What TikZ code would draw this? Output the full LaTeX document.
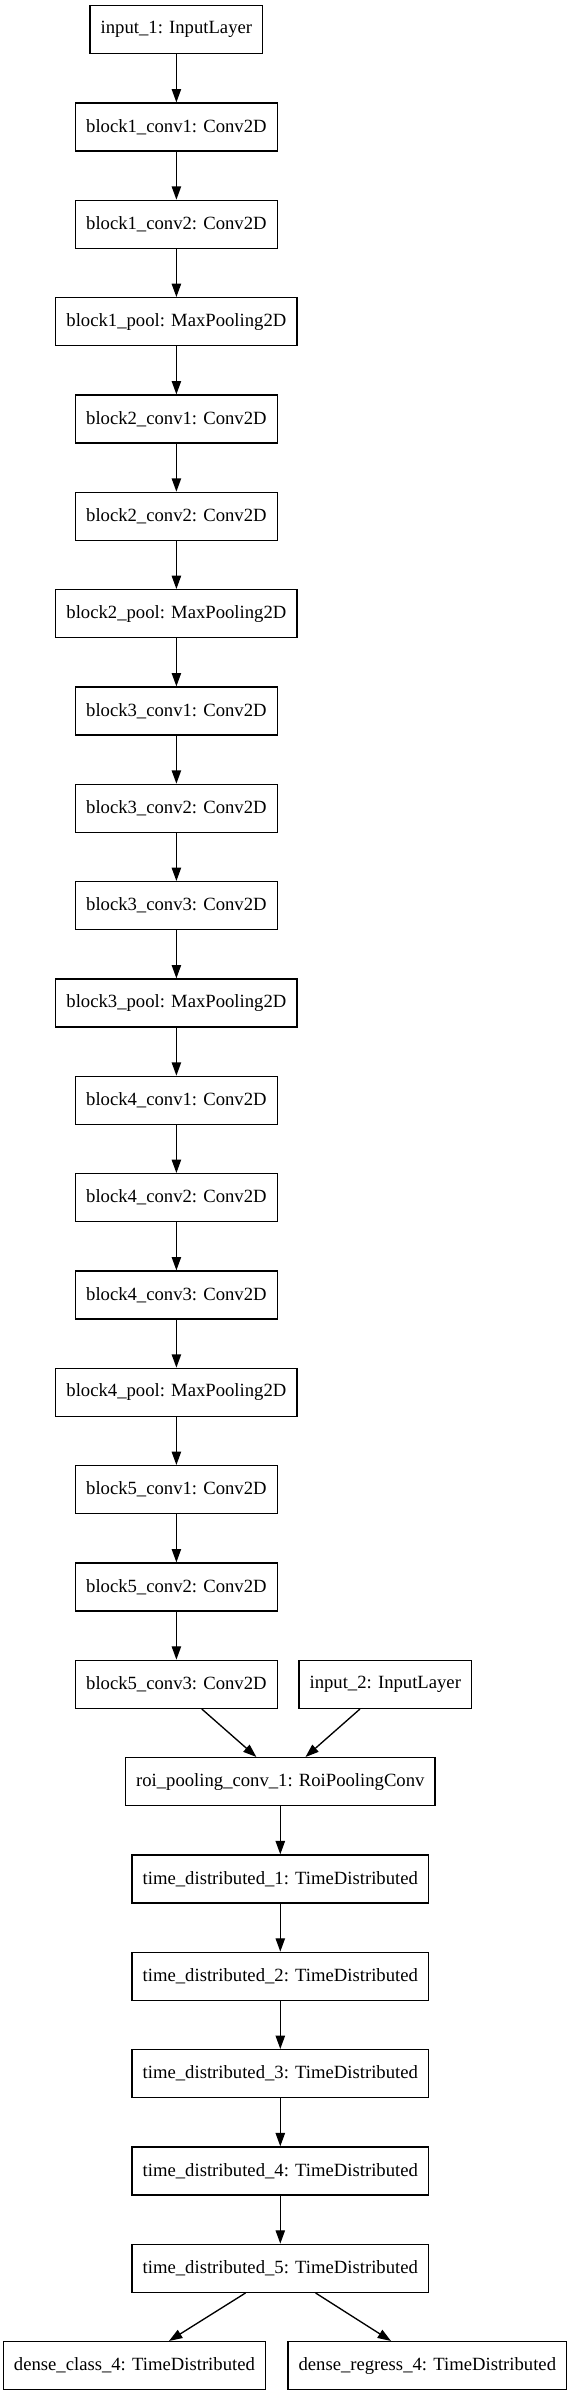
\documentclass[tikz,border=0pt]{standalone}
\usepackage{fontspec}
\setmainfont{Liberation Serif}
\usetikzlibrary{arrows.meta}
\begin{document}
\begin{tikzpicture}[x=0.75pt,y=-0.75pt,
  layer/.style={draw=black,line width=1pt,rectangle,minimum height=36pt,inner xsep=8pt,inner ysep=0pt,font=\fontsize{14pt}{16pt}\selectfont,fill=white},
  conn/.style={line width=1pt,-{Triangle[length=10pt,width=7pt]}}]
\useasboundingbox (0,0) rectangle (571,2396);
\def\mx{176.4}
\def\tx{280.3}
\foreach \k/\lab in {0/input\_1: InputLayer,1/block1\_conv1: Conv2D,2/block1\_conv2: Conv2D,3/block1\_pool: MaxPooling2D,4/block2\_conv1: Conv2D,5/block2\_conv2: Conv2D,6/block2\_pool: MaxPooling2D,7/block3\_conv1: Conv2D,8/block3\_conv2: Conv2D,9/block3\_conv3: Conv2D,10/block3\_pool: MaxPooling2D,11/block4\_conv1: Conv2D,12/block4\_conv2: Conv2D,13/block4\_conv3: Conv2D,14/block4\_pool: MaxPooling2D,15/block5\_conv1: Conv2D,16/block5\_conv2: Conv2D,17/block5\_conv3: Conv2D}
  \node[layer] (n\k) at (\mx,{29.7+97.33*\k}) {\lab};
\node[layer] (i2) at (385.3,{29.7+97.33*17}) {input\_2: InputLayer};
\node[layer] (n18) at (\tx,{29.7+97.33*18}) {roi\_pooling\_conv\_1: RoiPoolingConv};
\foreach \k/\j in {19/1,20/2,21/3,22/4,23/5}
  \node[layer] (n\k) at (\tx,{29.7+97.33*\k}) {time\_distributed\_\j: TimeDistributed};
\node[layer] (dc) at (134.4,{29.7+97.33*24}) {dense\_class\_4: TimeDistributed};
\node[layer] (dr) at (427.3,{29.7+97.33*24}) {dense\_regress\_4: TimeDistributed};
\foreach \a/\b in {0/1,1/2,2/3,3/4,4/5,5/6,6/7,7/8,8/9,9/10,10/11,11/12,12/13,13/14,14/15,15/16,16/17,18/19,19/20,20/21,21/22,22/23}
  \draw[conn] (n\a.south) -- (n\b.north);
\draw[conn] ([xshift=25.4*0.75pt]n17.south) -- ([xshift=-23.9*0.75pt]n18.north);
\draw[conn] ([xshift=-25.3*0.75pt]i2.south) -- ([xshift=25.2*0.75pt]n18.north);
\draw[conn] ([xshift=-34.8*0.75pt]n23.south) -- ([xshift=34.6*0.75pt]dc.north);
\draw[conn] ([xshift=35.3*0.75pt]n23.south) -- ([xshift=-36.3*0.75pt]dr.north);
\end{tikzpicture}
\end{document}
